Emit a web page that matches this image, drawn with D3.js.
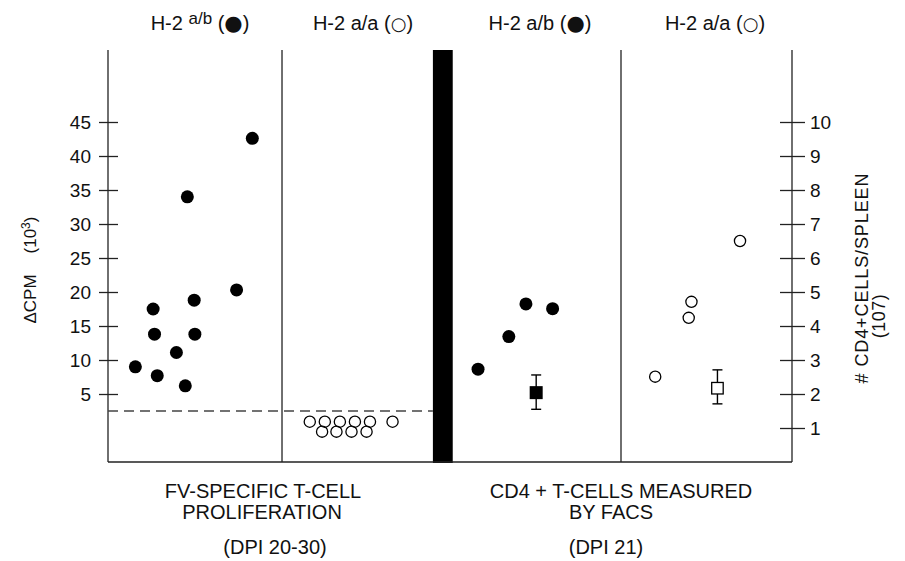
<!DOCTYPE html>
<html><head><meta charset="utf-8">
<script src="https://cdn.jsdelivr.net/npm/d3@7"></script>
<style>
body{margin:0;background:#fff}
text{font-family:"Liberation Sans",Arial,Helvetica,sans-serif;fill:#111}
</style>
</head><body>
<svg id="chart" width="905" height="561"></svg>
<script>
// ---- data ----
const leftTicks = [5,10,15,20,25,30,35,40,45];
const rightTicks = [1,2,3,4,5,6,7,8,9,10];
// FV-specific T-cell proliferation (ΔCPM x10^3), lane position within chart
const prolifAB_lane = [21.1,11.6,18.8,12.6,6.6,6.8,12.7,10.0,4.0,7.2,11.3];
const prolifAB_cpm  = [42.6,34.0,20.3,18.8,17.5,13.8,13.8,11.1,9.0,7.7,6.2];
const prolifAA_lane = [29.5,31.7,33.9,36.1,38.3,41.6,31.3,33.4,35.6,37.8];
const prolifAA_cpm  = [0.93,0.93,0.93,0.93,0.93,0.93,-0.54,-0.54,-0.54,-0.54];
const cutoffCPM = 2.5;
// CD4+ T cells by FACS (#/spleen x10^7)
const facsAB_lane = [54.1,58.6,61.1,65.0];
const facsAB_cells = [2.73,3.69,4.65,4.51];
const facsAA_lane = [80.0,84.9,85.3,92.4];
const facsAA_cells = [2.51,4.24,4.71,6.5];
const meanAB = {lane:62.6, mean:2.04, lo:1.55, hi:2.56};
const meanAA = {lane:89.1, mean:2.17, lo:1.71, hi:2.71};
const dividers = [25.44, 75.0];
const barLanes = [47.5, 50.4];
const headerPrefix = ["H-2 ", "H-2 a/a ", "H-2 a/b ", "H-2 a/a "];
const headerSymbol = ["●", "○", "●", "○"];

// ---- drawing ----
const svg = d3.select("#chart");
const yTop = 50, yBot = 462;
const x = d3.scaleLinear().domain([0,100]).range([108,792]);
const yL = d3.scaleLinear().domain([0,45]).range([428,122]);
const yR = d3.scaleLinear().domain([0,10]).range([462,122]);
const ink = "#222";

// black separator bar
svg.append("rect").attr("x", x(barLanes[0])).attr("y", yTop)
  .attr("width", x(barLanes[1]) - x(barLanes[0])).attr("height", yBot - yTop + 1)
  .attr("fill", "#000");

// frame lines
const frame = svg.append("g").attr("stroke", ink).attr("stroke-width", 1.3);
frame.append("line").attr("x1", x(0)).attr("x2", x(0)).attr("y1", yTop).attr("y2", yBot);
frame.append("line").attr("x1", x(100)).attr("x2", x(100)).attr("y1", yTop).attr("y2", yBot);
frame.append("line").attr("x1", x(0)).attr("x2", x(100)).attr("y1", yBot).attr("y2", yBot);
dividers.forEach(d => frame.append("line").attr("x1", x(d)).attr("x2", x(d)).attr("y1", yTop).attr("y2", yBot));

// left axis
const gL = svg.append("g").attr("transform", `translate(${x(0)},0)`)
  .call(d3.axisLeft(yL).tickValues(leftTicks).tickSize(9));
gL.select(".domain").remove();
gL.selectAll(".tick line").attr("x1", 10).attr("x2", -9).attr("stroke", ink).attr("stroke-width", 1.3);
gL.selectAll(".tick text").attr("x", -17).attr("dy", "0.36em")
  .style("font-size", "19px").style("font-family", "Liberation Sans, Arial, sans-serif").attr("fill", "#111");

// right axis
const gR = svg.append("g").attr("transform", `translate(${x(100)},0)`)
  .call(d3.axisRight(yR).tickValues(rightTicks).tickSize(12));
gR.select(".domain").remove();
gR.selectAll(".tick line").attr("x1", -12).attr("x2", 13).attr("stroke", ink).attr("stroke-width", 1.3);
gR.selectAll(".tick text").attr("x", 18).attr("dy", "0.36em")
  .style("font-size", "19px").style("font-family", "Liberation Sans, Arial, sans-serif").attr("fill", "#111");

// cutoff dashed line
svg.append("line").attr("x1", x(0)).attr("x2", x(barLanes[0]))
  .attr("y1", yL(cutoffCPM)).attr("y2", yL(cutoffCPM))
  .attr("stroke", "#444").attr("stroke-width", 1.3).attr("stroke-dasharray", "10,6");

// points
svg.append("g").selectAll("circle").data(d3.zip(prolifAB_lane, prolifAB_cpm)).join("circle")
  .attr("cx", d => x(d[0])).attr("cy", d => yL(d[1])).attr("r", 6.5).attr("fill", "#000");
svg.append("g").selectAll("circle").data(d3.zip(prolifAA_lane, prolifAA_cpm)).join("circle")
  .attr("cx", d => x(d[0])).attr("cy", d => yL(d[1])).attr("r", 5.6)
  .attr("fill", "none").attr("stroke", "#000").attr("stroke-width", 1.3);
svg.append("g").selectAll("circle").data(d3.zip(facsAB_lane, facsAB_cells)).join("circle")
  .attr("cx", d => x(d[0])).attr("cy", d => yR(d[1])).attr("r", 6.5).attr("fill", "#000");
svg.append("g").selectAll("circle").data(d3.zip(facsAA_lane, facsAA_cells)).join("circle")
  .attr("cx", d => x(d[0])).attr("cy", d => yR(d[1])).attr("r", 5.6)
  .attr("fill", "none").attr("stroke", "#000").attr("stroke-width", 1.3);

// mean +/- error
function meanMark(m, filled, size) {
  const g = svg.append("g").attr("stroke", "#000").attr("stroke-width", 1.4);
  const cx = x(m.lane);
  g.append("line").attr("x1", cx).attr("x2", cx).attr("y1", yR(m.hi)).attr("y2", yR(m.lo));
  g.append("line").attr("x1", cx-5).attr("x2", cx+5).attr("y1", yR(m.hi)).attr("y2", yR(m.hi));
  g.append("line").attr("x1", cx-5).attr("x2", cx+5).attr("y1", yR(m.lo)).attr("y2", yR(m.lo));
  g.append("rect").attr("x", cx - size/2).attr("y", yR(m.mean) - size/2)
    .attr("width", size).attr("height", size)
    .attr("fill", filled ? "#000" : "#fff").attr("stroke-width", filled ? 0 : 1.3);
}
meanMark(meanAB, true, 13);
meanMark(meanAA, false, 11.5);

// headers
const hx = [200, 363, 540, 715];
headerPrefix.forEach((p, i) => {
  const t = svg.append("text").attr("x", hx[i]).attr("y", 30).attr("text-anchor", "middle").style("font-size", "20px");
  t.append("tspan").text(p);
  if (i === 0) {
    t.append("tspan").text("a/b").style("font-size", "17px").attr("dy", -6);
    t.append("tspan").text(" (").attr("dy", 6);
  } else {
    t.append("tspan").text("(");
  }
  t.append("tspan").text(headerSymbol[i]).style("font-size", headerSymbol[i] === "●" ? "21px" : "18px")
    .style("font-family", "DejaVu Sans, sans-serif");
  t.append("tspan").text(")");
});

// axis titles
svg.append("text").attr("transform", "translate(36,299) rotate(-90)")
  .attr("text-anchor", "middle").style("font-size", "17px").text("ΔCPM");
const yt = svg.append("text").attr("transform", "translate(36,235) rotate(-90)")
  .attr("text-anchor", "middle").style("font-size", "17px");
yt.append("tspan").text("(10");
yt.append("tspan").text("3").style("font-size", "12px").attr("dy", -6);
yt.append("tspan").text(")").attr("dy", 6);
svg.append("text").attr("transform", "translate(868,278) rotate(-90)")
  .attr("text-anchor", "middle").style("font-size", "18px").style("letter-spacing", "0.9px").text("# CD4+CELLS/SPLEEN");
svg.append("text").attr("transform", "translate(885,316) rotate(-90)")
  .attr("text-anchor", "middle").style("font-size", "18px").style("letter-spacing", "0.5px").text("(107)");

// bottom captions
const caps = [
  {t:"FV-SPECIFIC T-CELL", x:263, y:498}, {t:"PROLIFERATION", x:262, y:519}, {t:"(DPI 20-30)", x:275, y:554},
  {t:"CD4 + T-CELLS MEASURED", x:621, y:498}, {t:"BY FACS", x:611, y:519}, {t:"(DPI 21)", x:606, y:554}
];
svg.append("g").selectAll("text").data(caps).join("text")
  .attr("x", d => d.x).attr("y", d => d.y).attr("text-anchor", "middle")
  .style("font-size", "20px").text(d => d.t);
</script>
</body></html>
